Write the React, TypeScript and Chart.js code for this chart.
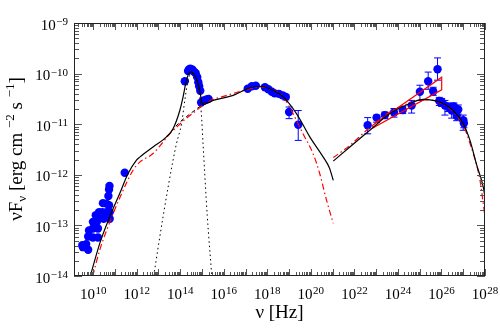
import React, { useEffect, useRef } from 'react';
import { Chart, registerables } from 'chart.js';
Chart.register(...registerables);

// ---- data (log10 values) ----
const radioLogNu = [9.50, 9.53, 9.68, 9.77, 9.77, 9.81, 9.99, 9.99, 9.99, 10.12, 10.17, 10.22, 10.22, 10.27, 10.30, 10.42, 10.45, 10.48, 10.61, 10.61, 10.70, 10.73, 10.73, 10.76, 10.76, 10.75, 11.45];
const radioLogFlux = [-13.39, -13.43, -13.37, -13.22, -13.48, -13.10, -12.93, -13.06, -13.24, -12.80, -12.93, -13.06, -13.24, -12.74, -12.83, -12.74, -12.56, -12.87, -12.57, -12.74, -12.42, -12.29, -12.60, -12.74, -12.87, -12.22, -11.96];

const optLogNu = [14.21, 14.36, 14.40, 14.46, 14.55, 14.59, 14.65, 14.71, 14.78, 14.83, 14.87, 14.92, 14.96, 15.08, 15.21, 15.30];
const optLogFlux = [-10.15, -9.95, -9.92, -9.905, -9.92, -9.945, -9.97, -9.994, -10.07, -10.17, -10.25, -10.34, -10.57, -10.53, -10.51, -10.50];

const xrayLogNu = [17.10, 17.29, 17.47, 17.89, 18.05, 18.21, 18.34, 18.53, 18.71, 18.85, 19.00, 19.42];
const xrayLogFlux = [-10.30, -10.25, -10.24, -10.27, -10.31, -10.36, -10.39, -10.40, -10.43, -10.46, -10.76, -11.01];
const xrayErrLo = [-10.33, -10.28, -10.27, -10.30, -10.34, -10.40, -10.43, -10.45, -10.48, -10.52, -10.89, -11.32];
const xrayErrHi = [-10.27, -10.22, -10.21, -10.24, -10.28, -10.33, -10.36, -10.36, -10.39, -10.41, -10.66, -10.73];

const gammaLogNu = [22.61, 23.02, 23.40, 23.82, 24.22, 24.63, 25.01, 25.39, 25.62, 25.82, 25.90, 26.01, 26.16, 26.31, 26.47, 26.57, 26.77, 26.70, 27.00, 27.03];
const gammaLogFlux = [-11.02, -10.87, -10.82, -10.77, -10.72, -10.63, -10.36, -10.15, -10.35, -9.915, -10.54, -10.56, -10.63, -10.66, -10.73, -10.65, -10.71, -10.84, -10.92, -10.98];
const gammaErrLo = [-11.19, -10.96, -10.89, -10.86, -10.79, -10.78, -10.53, -10.31, -10.43, -10.13, -10.63, -10.65, -10.82, -10.75, -10.88, -10.72, -10.80, -10.93, -11.12, -11.07];
const gammaErrHi = [-10.87, -10.82, -10.76, -10.69, -10.65, -10.53, -10.23, -9.97, -10.27, -9.69, -10.47, -10.49, -10.53, -10.58, -10.59, -10.58, -10.62, -10.76, -10.82, -10.90];

const bowLogNu = [22.84, 26.01, 26.01, 22.86, 22.84];
const bowLogFlux = [-11.02, -10.07, -10.32, -11.07, -11.02];

const blackSyncLogNu = [9.87, 10.30, 10.76, 11.22, 11.60, 11.99, 12.14, 12.75, 13.37, 13.67, 13.98, 14.13, 14.25, 14.36, 14.47, 14.59, 14.74, 14.90, 14.97, 15.05, 15.51, 16.43, 17.20, 17.66, 18.27, 18.73, 19.34, 19.95, 20.57, 20.85, 21.03];
const blackSyncLogFlux = [-14.0, -13.36, -12.83, -12.37, -11.98, -11.71, -11.65, -11.45, -11.25, -11.09, -10.73, -10.46, -10.20, -10.03, -9.97, -9.99, -10.10, -10.33, -10.53, -10.61, -10.53, -10.43, -10.28, -10.25, -10.33, -10.46, -10.79, -11.25, -11.65, -11.86, -12.11];

const blackCompLogNu = [21.03, 21.79, 22.71, 23.63, 24.55, 25.16, 25.62, 26.08, 26.54, 27.00, 27.31, 27.62, 27.92, 28.0];
const blackCompLogFlux = [-11.73, -11.45, -11.12, -10.79, -10.59, -10.51, -10.53, -10.59, -10.73, -10.99, -11.32, -11.81, -12.24, -12.44];

const redSyncLogNu = [9.98, 10.30, 10.76, 11.22, 11.83, 12.14, 12.75, 13.52, 13.98, 14.29, 14.74, 15.05, 15.51, 15.82, 17.04, 17.66, 18.27, 18.73, 19.18, 19.64, 20.10, 20.41, 20.72, 21.03];
const redSyncLogFlux = [-14.0, -13.49, -12.94, -12.46, -11.91, -11.75, -11.58, -11.19, -11.0, -10.88, -10.73, -10.62, -10.51, -10.47, -10.32, -10.26, -10.33, -10.46, -10.79, -11.19, -11.58, -11.98, -12.50, -12.96];

const redCompLogNu = [21.03, 21.79, 22.56, 23.63, 24.55, 25.16, 25.62, 26.08, 26.54, 27.00, 27.31, 27.77, 28.0];
const redCompLogFlux = [-11.66, -11.42, -11.12, -10.76, -10.58, -10.52, -10.53, -10.61, -10.75, -11.02, -11.38, -12.11, -12.83];

const diskLogNu = [12.78, 13.21, 13.67, 13.83, 14.06, 14.21, 14.36, 14.52, 14.67, 14.82, 14.97, 15.05, 15.24, 15.45];
const diskLogFlux = [-14.0, -12.83, -11.71, -11.38, -10.99, -10.53, -10.13, -10.00, -10.01, -10.26, -10.79, -11.40, -12.80, -14.0];

const jetLogNu = [13.37, 13.98, 14.44, 14.90, 15.26];
const jetLogFlux = [-11.25, -10.96, -10.80, -10.65, -10.55];

const xTickExponents = [10, 12, 14, 16, 18, 20, 22, 24, 26, 28];
const yTickExponents = [-14, -13, -12, -11, -10, -9];
const xAxisMinLog = 9.12;
const xAxisMaxLog = 28;
const yAxisMinLog = -14;
const yAxisMaxLog = -9;

const xTitle = 'ν [Hz]';
const yTitleParts: { t: string; s: number }[] = [
  { t: 'νF', s: 0 }, { t: 'ν', s: -1 }, { t: ' [erg cm ', s: 0 }, { t: '−2', s: 1 },
  { t: ' s ', s: 0 }, { t: '−1', s: 1 }, { t: ']', s: 0 },
];

const expText = (e: number) => (e < 0 ? '−' + Math.abs(e) : String(e));

const pts = (lx: number[], ly: number[]) => lx.map((v, i) => ({ x: Math.pow(10, v), y: Math.pow(10, ly[i]) }));

const FONT = 'Liberation Serif';

const errorBars = {
  id: 'errorBars',
  beforeDatasetDraw(chart: any, args: any) {
    const ds = chart.data.datasets[args.index];
    if (!ds.errLo) return;
    const { ctx, scales } = chart;
    const xs = scales.x, ys = scales.y;
    ctx.save();
    ctx.strokeStyle = ds.backgroundColor;
    ctx.lineWidth = 1;
    ctx.beginPath();
    ds.data.forEach((p: any, i: number) => {
      const px = xs.getPixelForValue(p.x);
      const y1 = ys.getPixelForValue(Math.pow(10, ds.errLo[i]));
      const y2 = ys.getPixelForValue(Math.pow(10, ds.errHi[i]));
      ctx.moveTo(px, y1); ctx.lineTo(px, y2);
      ctx.moveTo(px - 3.5, y1); ctx.lineTo(px + 3.5, y1);
      ctx.moveTo(px - 3.5, y2); ctx.lineTo(px + 3.5, y2);
    });
    ctx.stroke();
    ctx.restore();
  },
};

const frameTicks = {
  id: 'frameTicks',
  afterDraw(chart: any) {
    const { ctx, chartArea, scales } = chart;
    const { left, right, top, bottom } = chartArea;
    const xs = scales.x, ys = scales.y;
    ctx.save();
    ctx.strokeStyle = '#555';
    ctx.lineWidth = 1;
    ctx.beginPath();
    for (let d = Math.floor(xAxisMinLog); d <= xAxisMaxLog; d++) {
      for (let m = 1; m <= 9; m++) {
        const v = m * Math.pow(10, d);
        if (v < xs.min * 0.999 || v > xs.max * 1.001) continue;
        const px = Math.round(xs.getPixelForValue(v)) + 0.5;
        const len = m === 1 ? 7 : 4;
        ctx.moveTo(px, bottom); ctx.lineTo(px, bottom - len);
        ctx.moveTo(px, top); ctx.lineTo(px, top + len);
      }
    }
    for (let d = yAxisMinLog; d <= yAxisMaxLog; d++) {
      for (let m = 1; m <= 9; m++) {
        const v = m * Math.pow(10, d);
        if (v < ys.min * 0.999 || v > ys.max * 1.001) continue;
        const py = Math.round(ys.getPixelForValue(v)) + 0.5;
        const len = m === 1 ? 8 : 5;
        ctx.moveTo(left, py); ctx.lineTo(left + len, py);
        ctx.moveTo(right, py); ctx.lineTo(right - len, py);
      }
    }
    ctx.stroke();
    ctx.strokeStyle = '#222';
    ctx.strokeRect(Math.round(left) + 0.5, Math.round(top) + 0.5, Math.round(right - left) - 1, Math.round(bottom - top) - 1);
    ctx.restore();
  },
};

const tickLabels = {
  id: 'tickLabels',
  afterDraw(chart: any) {
    const { ctx, chartArea, scales } = chart;
    const big = `15px "${FONT}"`, small = `11px "${FONT}"`;
    ctx.save();
    ctx.fillStyle = '#000';
    ctx.textAlign = 'left';
    ctx.textBaseline = 'alphabetic';
    yTickExponents.forEach((e) => {
      const py = scales.y.getPixelForValue(Math.pow(10, e));
      const sup = expText(e);
      ctx.font = big; const w1 = ctx.measureText('10').width;
      ctx.font = small; const w2 = ctx.measureText(sup).width;
      const x0 = chartArea.left - 6 - w1 - w2 - 0.5;
      ctx.font = big; ctx.fillText('10', x0, py + 6.5);
      ctx.font = small; ctx.fillText(sup, x0 + w1 + 0.5, py + 2);
    });
    xTickExponents.forEach((e) => {
      const px = scales.x.getPixelForValue(Math.pow(10, e));
      const sup = expText(e);
      ctx.font = big; const w1 = ctx.measureText('10').width;
      ctx.font = small; const w2 = ctx.measureText(sup).width;
      const x0 = px - (w1 + w2 + 0.5) / 2;
      ctx.font = big; ctx.fillText('10', x0, chartArea.bottom + 23);
      ctx.font = small; ctx.fillText(sup, x0 + w1 + 0.5, chartArea.bottom + 18);
    });
    ctx.restore();
  },
};

const yTitlePlugin = {
  id: 'yTitle',
  afterDraw(chart: any) {
    const ctx = chart.ctx;
    const big = 19, small = 13;
    ctx.save();
    ctx.fillStyle = '#000';
    ctx.textBaseline = 'alphabetic';
    ctx.textAlign = 'left';
    const widths = yTitleParts.map((p) => {
      ctx.font = `${p.s === 0 ? big : small}px "${FONT}"`;
      return ctx.measureText(p.t).width;
    });
    const total = widths.reduce((a, b) => a + b, 0);
    ctx.translate(22, 149);
    ctx.rotate(-Math.PI / 2);
    let xpos = -total / 2;
    yTitleParts.forEach((p, i) => {
      ctx.font = `${p.s === 0 ? big : small}px "${FONT}"`;
      const dy = p.s === 1 ? -8 : p.s === -1 ? 4 : 0;
      ctx.fillText(p.t, xpos, dy);
      xpos += widths[i];
    });
    ctx.restore();
  },
};

export default function App() {
  const ref = useRef<HTMLCanvasElement>(null);
  useEffect(() => {
    Chart.defaults.font.family = FONT;
    const blue = '#0000ff';
    const lineBase = { showLine: true, pointRadius: 0, pointHoverRadius: 0, fill: false, cubicInterpolationMode: 'monotone' as const };
    const chart = new Chart(ref.current!, {
      type: 'scatter',
      data: {
        datasets: [
          { ...lineBase, label: 'total', data: pts(blackSyncLogNu, blackSyncLogFlux), borderColor: '#000', borderWidth: 1.2 },
          { ...lineBase, label: 'total IC', data: pts(blackCompLogNu, blackCompLogFlux), borderColor: '#000', borderWidth: 1.2 },
          { ...lineBase, label: 'model 2', data: pts(redSyncLogNu, redSyncLogFlux), borderColor: '#ff0000', borderWidth: 1.2, borderDash: [6, 3, 1.5, 3] },
          { ...lineBase, label: 'model 2 IC', data: pts(redCompLogNu, redCompLogFlux), borderColor: '#ff0000', borderWidth: 1.2, borderDash: [6, 3, 1.5, 3] },
          { ...lineBase, label: 'disk', data: pts(diskLogNu, diskLogFlux), borderColor: '#000', borderWidth: 1, borderDash: [1.5, 3] },
          { ...lineBase, label: 'jet', data: pts(jetLogNu, jetLogFlux), borderColor: '#000', borderWidth: 1, borderDash: [4, 3] },
          { showLine: true, pointRadius: 0, label: 'Fermi bowtie', data: pts(bowLogNu, bowLogFlux), borderColor: '#ff0000', borderWidth: 1.2, tension: 0 },
          { label: 'gamma', data: pts(gammaLogNu, gammaLogFlux), backgroundColor: blue, borderWidth: 0, pointRadius: 4.2, errLo: gammaErrLo, errHi: gammaErrHi } as any,
          { label: 'xray', data: pts(xrayLogNu, xrayLogFlux), backgroundColor: blue, borderWidth: 0, pointRadius: 4.2, errLo: xrayErrLo, errHi: xrayErrHi } as any,
          { label: 'optical', data: pts(optLogNu, optLogFlux), backgroundColor: blue, borderWidth: 0, pointRadius: 4.2 },
          { label: 'radio', data: pts(radioLogNu, radioLogFlux), backgroundColor: blue, borderWidth: 0, pointRadius: 4.2 },
        ],
      },
      options: {
        responsive: false,
        animation: false,
        layout: { padding: { top: 23, right: 15, left: 0, bottom: 0 } },
        plugins: { legend: { display: false }, tooltip: { enabled: false } },
        scales: {
          x: {
            type: 'logarithmic',
            min: Math.pow(10, xAxisMinLog),
            max: Math.pow(10, xAxisMaxLog),
            grid: { display: false, drawTicks: false },
            border: { display: false },
            afterBuildTicks: (s: any) => { s.ticks = xTickExponents.map((e) => ({ value: Math.pow(10, e) })); },
            afterFit: (s: any) => { s.height = 55; },
            ticks: { display: false },
            title: { display: true, text: xTitle, font: { family: FONT, size: 19 }, color: '#000', padding: { top: 0, bottom: 7 } },
          },
          y: {
            type: 'logarithmic',
            min: Math.pow(10, yAxisMinLog),
            max: Math.pow(10, yAxisMaxLog),
            grid: { display: false, drawTicks: false },
            border: { display: false },
            afterBuildTicks: (s: any) => { s.ticks = yTickExponents.map((e) => ({ value: Math.pow(10, e) })); },
            afterFit: (s: any) => { s.width = 74; },
            ticks: { display: false },
          },
        },
      },
      plugins: [errorBars, frameTicks, tickLabels, yTitlePlugin],
    });
    return () => chart.destroy();
  }, []);
  return (
    <div style={{ position: 'fixed', left: 0, top: 0, width: 500, height: 331, background: '#fff' }}>
      <canvas ref={ref} width={500} height={331} />
    </div>
  );
}
